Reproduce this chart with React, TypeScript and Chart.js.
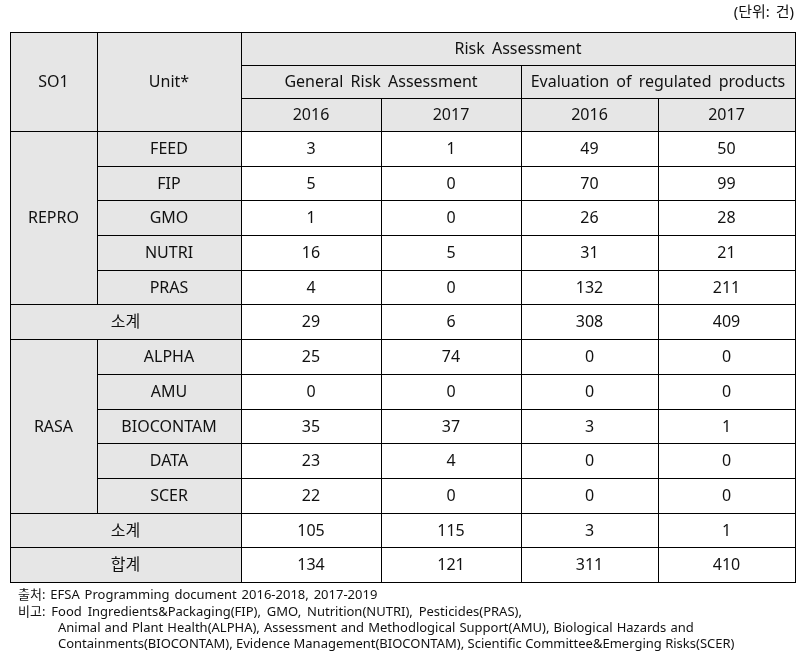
import { useEffect, useRef } from "react";
import { Chart, registerables } from "chart.js";

Chart.register(...registerables);

// ---------- text & data ----------
const UNIT_NOTE = "(단위: 건)";
const HEAD_SO1 = "SO1";
const HEAD_UNIT = "Unit*";
const HEAD_TOP = "Risk Assessment";
const HEAD_GROUPS = ["General Risk Assessment", "Evaluation of regulated products"];
const YEARS = ["2016", "2017"];

const SO1_GROUPS = ["REPRO", "RASA"];
const REPRO_UNITS = ["FEED", "FIP", "GMO", "NUTRI", "PRAS"];
const RASA_UNITS = ["ALPHA", "AMU", "BIOCONTAM", "DATA", "SCER"];

// columns: General RA 2016, General RA 2017, Evaluation 2016, Evaluation 2017
const REPRO_GRA_2016 = [3, 5, 1, 16, 4];
const REPRO_GRA_2017 = [1, 0, 0, 5, 0];
const REPRO_ERP_2016 = [49, 70, 26, 31, 132];
const REPRO_ERP_2017 = [50, 99, 28, 21, 211];

const RASA_GRA_2016 = [25, 0, 35, 23, 22];
const RASA_GRA_2017 = [74, 0, 37, 4, 0];
const RASA_ERP_2016 = [0, 0, 3, 0, 0];
const RASA_ERP_2017 = [0, 0, 1, 0, 0];

const SUBTOTAL_LABEL = "소계";
const TOTAL_LABEL = "합계";
const REPRO_SUBTOTAL = [29, 6, 308, 409];
const RASA_SUBTOTAL = [105, 115, 3, 1];
const GRAND_TOTAL = [134, 121, 311, 410];

const SOURCE_NOTE = "출처: EFSA Programming document 2016-2018, 2017-2019";
const REMARK_LINES = [
  "비고: Food Ingredients&Packaging(FIP), GMO, Nutrition(NUTRI), Pesticides(PRAS),",
  "Animal and Plant Health(ALPHA), Assessment and Methodlogical Support(AMU), Biological Hazards and",
  "Containments(BIOCONTAM), Evidence Management(BIOCONTAM), Scientific Committee&Emerging Risks(SCER)",
];

// ---------- layout (table units) ----------
const COL_WIDTHS = [87, 144, 140, 140, 137, 137];
const HEADER_ROW_H = 33;
const BODY_ROW_H = 34.7;
const HEADER_ROWS = 3;
const BODY_ROWS = 13;

const FONT = '"Noto Sans", "Noto Sans CJK KR", sans-serif';
const GREY = "#e6e6e6";
const INK = "#111";

const colEdges: number[] = [0];
COL_WIDTHS.forEach((w) => colEdges.push(colEdges[colEdges.length - 1] + w));
const rowEdges: number[] = [0];
for (let i = 0; i < HEADER_ROWS; i++) rowEdges.push(rowEdges[rowEdges.length - 1] + HEADER_ROW_H);
for (let i = 0; i < BODY_ROWS; i++) rowEdges.push(rowEdges[rowEdges.length - 1] + BODY_ROW_H);

type Cell = { c0: number; c1: number; r0: number; r1: number; text: string; fill: string; ws?: number };

function buildCells(): Cell[] {
  const cells: Cell[] = [];
  cells.push({ c0: 0, c1: 1, r0: 0, r1: 3, text: HEAD_SO1, fill: GREY });
  cells.push({ c0: 1, c1: 2, r0: 0, r1: 3, text: HEAD_UNIT, fill: GREY });
  cells.push({ c0: 2, c1: 6, r0: 0, r1: 1, text: HEAD_TOP, fill: GREY, ws: 3 });
  cells.push({ c0: 2, c1: 4, r0: 1, r1: 2, text: HEAD_GROUPS[0], fill: GREY, ws: 3 });
  cells.push({ c0: 4, c1: 6, r0: 1, r1: 2, text: HEAD_GROUPS[1], fill: GREY, ws: 3 });
  for (let g = 0; g < 2; g++)
    YEARS.forEach((y, i) => cells.push({ c0: 2 + g * 2 + i, c1: 3 + g * 2 + i, r0: 2, r1: 3, text: y, fill: GREY }));

  const groups = [
    { name: SO1_GROUPS[0], units: REPRO_UNITS, cols: [REPRO_GRA_2016, REPRO_GRA_2017, REPRO_ERP_2016, REPRO_ERP_2017], sub: REPRO_SUBTOTAL },
    { name: SO1_GROUPS[1], units: RASA_UNITS, cols: [RASA_GRA_2016, RASA_GRA_2017, RASA_ERP_2016, RASA_ERP_2017], sub: RASA_SUBTOTAL },
  ];
  let r = HEADER_ROWS;
  groups.forEach((g) => {
    cells.push({ c0: 0, c1: 1, r0: r, r1: r + g.units.length, text: g.name, fill: GREY });
    g.units.forEach((u, i) => {
      cells.push({ c0: 1, c1: 2, r0: r + i, r1: r + i + 1, text: u, fill: GREY });
      g.cols.forEach((col, k) =>
        cells.push({ c0: 2 + k, c1: 3 + k, r0: r + i, r1: r + i + 1, text: String(col[i]), fill: "#fff" })
      );
    });
    r += g.units.length;
    cells.push({ c0: 0, c1: 2, r0: r, r1: r + 1, text: SUBTOTAL_LABEL, fill: GREY });
    g.sub.forEach((v, k) => cells.push({ c0: 2 + k, c1: 3 + k, r0: r, r1: r + 1, text: String(v), fill: "#fff" }));
    r += 1;
  });
  cells.push({ c0: 0, c1: 2, r0: r, r1: r + 1, text: TOTAL_LABEL, fill: GREY });
  GRAND_TOTAL.forEach((v, k) => cells.push({ c0: 2 + k, c1: 3 + k, r0: r, r1: r + 1, text: String(v), fill: "#fff" }));
  return cells;
}

const tablePlugin = {
  id: "tablePlugin",
  afterDraw(chart: any) {
    const ctx: CanvasRenderingContext2D = chart.ctx;
    const xs = chart.scales.x;
    const ys = chart.scales.y;
    const px = (v: number) => Math.round(xs.getPixelForValue(v));
    const py = (v: number) => Math.round(ys.getPixelForValue(v));
    const cells = buildCells();
    ctx.save();
    // fills
    cells.forEach((c) => {
      const x0 = px(colEdges[c.c0]), x1 = px(colEdges[c.c1]);
      const y0 = py(rowEdges[c.r0]), y1 = py(rowEdges[c.r1]);
      ctx.fillStyle = c.fill;
      ctx.fillRect(x0, y0, x1 - x0, y1 - y0);
    });
    // text
    ctx.fillStyle = INK;
    ctx.textAlign = "center";
    ctx.textBaseline = "middle";
    ctx.font = `16px ${FONT}`;
    cells.forEach((c) => {
      const x0 = px(colEdges[c.c0]), x1 = px(colEdges[c.c1]);
      const y0 = py(rowEdges[c.r0]), y1 = py(rowEdges[c.r1]);
      (ctx as any).wordSpacing = `${c.ws || 0}px`;
      ctx.fillText(c.text, (x0 + x1) / 2, (y0 + y1) / 2 + 1);
    });
    (ctx as any).wordSpacing = "0px";
    // borders
    ctx.strokeStyle = "#000";
    ctx.lineWidth = 1;
    cells.forEach((c) => {
      const x0 = px(colEdges[c.c0]), x1 = px(colEdges[c.c1]);
      const y0 = py(rowEdges[c.r0]), y1 = py(rowEdges[c.r1]);
      ctx.strokeRect(x0 + 0.5, y0 + 0.5, x1 - x0, y1 - y0);
    });

    // unit note (top right)
    const right = px(colEdges[colEdges.length - 1]);
    const top = py(0);
    const bottom = py(rowEdges[rowEdges.length - 1]);
    const left = px(0);
    ctx.font = `15px ${FONT}`;
    ctx.textAlign = "right";
    ctx.fillStyle = INK;
    (ctx as any).wordSpacing = "2px";
    ctx.fillText(UNIT_NOTE, right - 1, top - 19);

    // footnotes
    ctx.font = `13px ${FONT}`;
    ctx.textAlign = "left";
    (ctx as any).wordSpacing = "1.5px";
    ctx.fillText(SOURCE_NOTE, left + 8, bottom + 13);
    (ctx as any).wordSpacing = "2.5px";
    ctx.fillText(REMARK_LINES[0], left + 8, bottom + 30);
    (ctx as any).wordSpacing = "0.7px";
    ctx.fillText(REMARK_LINES[1], left + 48, bottom + 46);
    (ctx as any).wordSpacing = "0px";
    ctx.fillText(REMARK_LINES[2], left + 48, bottom + 62);
    ctx.restore();
  },
};

export default function App() {
  const ref = useRef<HTMLCanvasElement>(null);
  useEffect(() => {
    if (!ref.current) return;
    const chart = new Chart(ref.current, {
      type: "scatter",
      data: { datasets: [] },
      options: {
        responsive: false,
        animation: false,
        events: [],
        layout: { padding: { left: 10, right: 17, top: 32, bottom: 81 } },
        scales: {
          x: { type: "linear", display: false, min: 0, max: colEdges[colEdges.length - 1] },
          y: { type: "linear", display: false, min: 0, max: rowEdges[rowEdges.length - 1], reverse: true },
        },
        plugins: { legend: { display: false }, tooltip: { enabled: false }, title: { display: false } },
      },
      plugins: [tablePlugin],
    });
    return () => chart.destroy();
  }, []);
  return (
    <div style={{ position: "absolute", left: 0, top: 0, width: 812, height: 663, background: "#fff" }}>
      <canvas ref={ref} width={812} height={663} style={{ display: "block" }} />
    </div>
  );
}
